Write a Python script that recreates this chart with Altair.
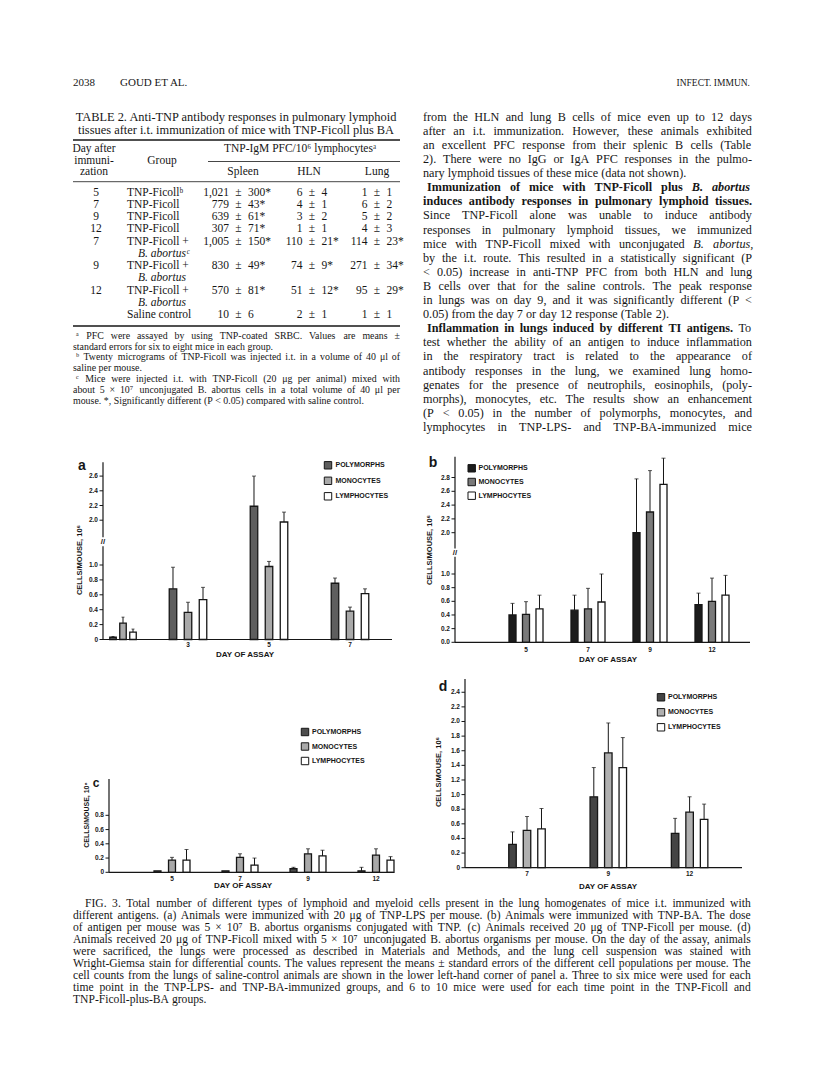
import altair as alt
import pandas as pd

M = 8  # page margin of the browser
SANS = "Liberation Sans"
SERIF = "Liberation Serif"
INK = "#161616"


def P(v):
    return v - M


# ---------------------------------------------------------------- figure data
cells = ["POLYMORPHS", "MONOCYTES", "LYMPHOCYTES"]

# panel a (TNP-LPS); saline control shown at the lower left
a_ctrl_day = ["C"]
a_ctrl = [0.03, 0.22, 0.10]
a_ctrl_se = [0.01, 0.08, 0.04]
a_days = ["3", "5", "7"]
a_poly = [0.68, 2.19, 0.755]
a_poly_se = [0.29, 0.41, 0.07]
a_mono = [0.365, 0.98, 0.38]
a_mono_se = [0.135, 0.10, 0.055]
a_lymph = [0.535, 1.96, 0.615]
a_lymph_se = [0.165, 0.15, 0.065]

# panel b (TNP-BA)
b_days = ["5", "7", "9", "12"]
b_poly = [0.40, 0.47, 2.00, 0.55]
b_poly_se = [0.17, 0.22, 0.78, 0.17]
b_mono = [0.41, 0.49, 2.30, 0.60]
b_mono_se = [0.185, 0.30, 0.60, 0.34]
b_lymph = [0.49, 0.59, 2.70, 0.69]
b_lymph_se = [0.20, 0.41, 0.38, 0.29]

# panel c (TNP-Ficoll)
c_days = ["5", "7", "9", "12"]
c_poly = [0.02, 0.02, 0.05, 0.02]
c_poly_se = [0.0, 0.0, 0.02, 0.05]
c_mono = [0.17, 0.21, 0.26, 0.24]
c_mono_se = [0.04, 0.05, 0.07, 0.09]
c_lymph = [0.17, 0.10, 0.23, 0.17]
c_lymph_se = [0.15, 0.10, 0.08, 0.05]

# panel d (TNP-Ficoll + B. abortus)
d_days = ["7", "9", "12"]
d_poly = [0.32, 0.97, 0.47]
d_poly_se = [0.17, 0.40, 0.205]
d_mono = [0.51, 1.57, 0.76]
d_mono_se = [0.19, 0.41, 0.21]
d_lymph = [0.53, 1.37, 0.66]
d_lymph_se = [0.28, 0.41, 0.21]

# axis ticks
a_ticks = [0, 0.2, 0.4, 0.6, 0.8, 1.0, 2.0, 2.2, 2.4, 2.6]
b_ticks = [0, 0.2, 0.4, 0.6, 0.8, 1.0, 2.0, 2.2, 2.4, 2.6, 2.8]
c_ticks = [0, 0.2, 0.4, 0.6, 0.8]
d_ticks = [0, 0.2, 0.4, 0.6, 0.8, 1.0, 1.2, 1.4, 1.6, 1.8, 2.0, 2.2, 2.4]

# ---------------------------------------------------------------- table data
tbl_day = ["5", "7", "9", "12", "7", "9", "12", ""]
tbl_group = ["TNP-Ficollᵇ", "TNP-Ficoll", "TNP-Ficoll", "TNP-Ficoll",
             "TNP-Ficoll +", "TNP-Ficoll +", "TNP-Ficoll +", "Saline control"]
tbl_group2 = ["", "", "", "", "B. abortusᶜ", "B. abortus", "B. abortus", ""]
spleen_mean = ["1,021", "779", "639", "307", "1,005", "830", "570", "10"]
spleen_se = ["300*", "43*", "61*", "71*", "150*", "49*", "81*", "6"]
hln_mean = ["6", "4", "3", "1", "110", "74", "51", "2"]
hln_se = ["4", "1", "2", "1", "21*", "9*", "12*", "1"]
lung_mean = ["1", "6", "5", "4", "114", "271", "95", "1"]
lung_se = ["1", "2", "2", "3", "23*", "34*", "29*", "1"]

# (text, justified)
footnotes = [
    ("ᵃ PFC were assayed by using TNP-coated SRBC. Values are means ±", True),
    ("standard errors for six to eight mice in each group.", False),
    ("ᵇ Twenty micrograms of TNP-Ficoll was injected i.t. in a volume of 40 μl of", True),
    ("saline per mouse.", False),
    ("ᶜ Mice were injected i.t. with TNP-Ficoll (20 μg per animal) mixed with", True),
    ("about 5 × 10⁷ unconjugated B. abortus cells in a total volume of 40 μl per", True),
    ("mouse. *, Significantly different (P < 0.05) compared with saline control.", False),
]

# segments: (text, weight, style); second item: justified
body = [
    ([("from the HLN and lung B cells of mice even up to 12 days", "normal", "normal")], True),
    ([("after an i.t. immunization. However, these animals exhibited", "normal", "normal")], True),
    ([("an excellent PFC response from their splenic B cells (Table", "normal", "normal")], True),
    ([("2). There were no IgG or IgA PFC responses in the pulmo-", "normal", "normal")], True),
    ([("nary lymphoid tissues of these mice (data not shown).", "normal", "normal")], False),
    ([("Immunization of mice with TNP-Ficoll plus", "bold", "normal"),
      ("B. abortus", "bold", "italic")], True),
    ([("induces antibody responses in pulmonary lymphoid tissues.", "bold", "normal")], True),
    ([("Since TNP-Ficoll alone was unable to induce antibody", "normal", "normal")], True),
    ([("responses in pulmonary lymphoid tissues, we immunized", "normal", "normal")], True),
    ([("mice with TNP-Ficoll mixed with unconjugated", "normal", "normal"),
      ("B. abortus,", "normal", "italic")], True),
    ([("by the i.t. route. This resulted in a statistically significant (P", "normal", "normal")], True),
    ([("< 0.05) increase in anti-TNP PFC from both HLN and lung", "normal", "normal")], True),
    ([("B cells over that for the saline controls. The peak response", "normal", "normal")], True),
    ([("in lungs was on day 9, and it was significantly different (P <", "normal", "normal")], True),
    ([("0.05) from the day 7 or day 12 response (Table 2).", "normal", "normal")], False),
    ([("Inflammation in lungs induced by different TI antigens.", "bold", "normal"),
      ("To", "normal", "normal")], True),
    ([("test whether the ability of an antigen to induce inflammation", "normal", "normal")], True),
    ([("in the respiratory tract is related to the appearance of", "normal", "normal")], True),
    ([("antibody responses in the lung, we examined lung homo-", "normal", "normal")], True),
    ([("genates for the presence of neutrophils, eosinophils, (poly-", "normal", "normal")], True),
    ([("morphs), monocytes, etc. The results show an enhancement", "normal", "normal")], True),
    ([("(P < 0.05) in the number of polymorphs, monocytes, and", "normal", "normal")], True),
    ([("lymphocytes in TNP-LPS- and TNP-BA-immunized mice", "normal", "normal")], True),
]

caption = [
    "FIG. 3. Total number of different types of lymphoid and myeloid cells present in the lung homogenates of mice i.t. immunized with",
    "different antigens. (a) Animals were immunized with 20 μg of TNP-LPS per mouse. (b) Animals were immunized with TNP-BA. The dose",
    "of antigen per mouse was 5 × 10⁷ B. abortus organisms conjugated with TNP. (c) Animals received 20 μg of TNP-Ficoll per mouse. (d)",
    "Animals received 20 μg of TNP-Ficoll mixed with 5 × 10⁷ unconjugated B. abortus organisms per mouse. On the day of the assay, animals",
    "were sacrificed, the lungs were processed as described in Materials and Methods, and the lung cell suspension was stained with",
    "Wright-Giemsa stain for differential counts. The values represent the means ± standard errors of the different cell populations per mouse. The",
    "cell counts from the lungs of saline-control animals are shown in the lower left-hand corner of panel a. Three to six mice were used for each",
    "time point in the TNP-LPS- and TNP-BA-immunized groups, and 6 to 10 mice were used for each time point in the TNP-Ficoll and",
    "TNP-Ficoll-plus-BA groups.",
]

# ---------------------------------------------------------------- text metrics (Times / Liberation Serif, per 1000 em)
_REG = {" ": 250, "!": 333, "'": 180, "(": 333, ")": 333, "*": 500, "+": 564, ",": 250,
        "-": 333, ".": 250, "/": 278, ":": 278, ";": 278, "<": 564, "=": 564, ">": 564,
        "±": 549, "×": 564, "μ": 500}
for ch, w in zip("ABCDEFGHIJKLMNOPQRSTUVWXYZ",
                 [722, 667, 667, 722, 611, 556, 722, 722, 333, 389, 722, 611, 889, 722, 722,
                  556, 722, 667, 556, 611, 722, 722, 944, 722, 722, 611]):
    _REG[ch] = w
for ch, w in zip("abcdefghijklmnopqrstuvwxyz",
                 [444, 500, 444, 500, 444, 333, 500, 500, 278, 278, 500, 278, 778, 500, 500,
                  500, 500, 333, 389, 278, 500, 500, 722, 500, 500, 444]):
    _REG[ch] = w
_BOLD = dict(_REG)
for ch, w in zip("ABCDEFGHIJKLMNOPQRSTUVWXYZ",
                 [722, 667, 722, 722, 667, 611, 778, 778, 389, 500, 778, 667, 944, 722, 778,
                  611, 778, 722, 556, 667, 722, 722, 1000, 722, 722, 667]):
    _BOLD[ch] = w
for ch, w in zip("abcdefghijklmnopqrstuvwxyz",
                 [500, 556, 444, 556, 444, 333, 500, 556, 278, 333, 556, 278, 833, 556, 500,
                  556, 556, 444, 389, 333, 556, 500, 722, 500, 500, 444]):
    _BOLD[ch] = w
_BOLD[":"] = 333


def text_w(s, size, weight="normal"):
    tab = _BOLD if weight == "bold" else _REG
    tot = 0
    for ch in s:
        if ch.isdigit():
            tot += 500
        elif ch in tab:
            tot += tab[ch]
        else:
            tot += 350
    return tot * size / 1000.0


# ---------------------------------------------------------------- helpers
def make_df(days, vals, ses):
    rows = []
    for i, d in enumerate(days):
        for k, c in enumerate(cells):
            rows.append({"day": d, "cell": c, "value": vals[k][i], "se": ses[k][i]})
    return pd.DataFrame(rows)


def yscale(dom, rng):
    return alt.Scale(domain=dom, range=[P(v) for v in rng], nice=False, zero=False)


def bar_layers(df, days, xr, pin, pout, spin, spout, ys, colors, cap=4.0):
    xs = alt.Scale(domain=days, range=[P(xr[0]), P(xr[1])],
                   paddingInner=pin, paddingOuter=pout)
    xo = alt.Scale(domain=cells, paddingInner=spin, paddingOuter=spout)
    X = alt.X("day:N", scale=xs, axis=None)
    XO = alt.XOffset("cell:N", scale=xo)
    fs = alt.Scale(domain=cells, range=colors)
    base = alt.Chart(df)
    bars = base.mark_bar(stroke=INK, strokeWidth=1.3).encode(
        x=X, xOffset=XO, y=alt.Y("value:Q", scale=ys, axis=None),
        fill=alt.Fill("cell:N", scale=fs, legend=None))
    eb = base.transform_filter("datum.se > 0").transform_calculate(
        upper="datum.value + datum.se")
    err = eb.mark_rule(color=INK, strokeWidth=1).encode(
        x=X, xOffset=XO, y=alt.Y("value:Q", scale=ys, axis=None), y2="upper:Q")
    caps = eb.mark_tick(color=INK, thickness=1, size=cap).encode(
        x=X, xOffset=XO, y=alt.Y("upper:Q", scale=ys, axis=None))
    return [bars, err, caps], xs


def fmt(v, zero):
    return zero if v == 0 else f"{v:.1f}"


def y_axis(ys, ticks, zero_label, ax_x, segs):
    tdf = pd.DataFrame({"v": ticks, "lab": [fmt(t, zero_label) for t in ticks]})
    Y = alt.Y("v:Q", scale=ys, axis=None)
    tk = alt.Chart(tdf).mark_rule(color=INK, strokeWidth=1).encode(
        y=Y, x=alt.value(P(ax_x - 3.5)), x2=alt.value(P(ax_x)))
    tl = alt.Chart(tdf).mark_text(align="right", baseline="middle", font=SANS,
                                  fontWeight="bold", fontSize=6.5, color=INK).encode(
        y=Y, x=alt.value(P(ax_x - 5)), text="lab:N")
    sdf = pd.DataFrame({"lo": [s[0] for s in segs], "hi": [s[1] for s in segs]})
    ln = alt.Chart(sdf).mark_rule(color=INK, strokeWidth=1.2).encode(
        y=alt.Y("lo:Q", scale=ys, axis=None), y2="hi:Q", x=alt.value(P(ax_x)))
    return [tk, tl, ln]


def x_axis(ys, xs, days, x0, x1, label_y):
    bl = alt.Chart(pd.DataFrame({"v": [0.0]})).mark_rule(color=INK, strokeWidth=1.2).encode(
        y=alt.Y("v:Q", scale=ys, axis=None), x=alt.value(P(x0)), x2=alt.value(P(x1)))
    lab = alt.Chart(pd.DataFrame({"day": days})).mark_text(
        baseline="middle", font=SANS, fontWeight="bold", fontSize=6.5, color=INK).encode(
        x=alt.X("day:N", scale=xs, axis=None), y=alt.value(P(label_y)), text="day:N")
    return [bl, lab]


def legend(colors, sx, lx, y0, y2, size=55):
    ldf = pd.DataFrame({"cell": cells})
    Y = alt.Y("cell:N", scale=alt.Scale(type="point", domain=cells,
                                         range=[P(y0), P(y2)], padding=0), axis=None)
    sw = alt.Chart(ldf).mark_square(size=size, stroke=INK, strokeWidth=1, opacity=1).encode(
        y=Y, x=alt.value(P(sx)),
        fill=alt.Fill("cell:N", scale=alt.Scale(domain=cells, range=colors), legend=None))
    tx = alt.Chart(ldf).mark_text(align="left", baseline="middle", font=SANS,
                                  fontWeight="bold", fontSize=7, color=INK).encode(
        y=Y, x=alt.value(P(lx)), text="cell:N")
    return [sw, tx]


layers = []

# ---------------------------------------------------------------- panel a
a_cols = ["#5e5e5e", "#a9a9a9", "#ffffff"]
ys_a = yscale([0, 1.0, 2.0, 2.8], [639.5, 565, 520.2, 461.4])
df_a = make_df(a_days, [a_poly, a_mono, a_lymph], [a_poly_se, a_mono_se, a_lymph_se])
df_ac = make_df(a_ctrl_day, [[a_ctrl[0]], [a_ctrl[1]], [a_ctrl[2]]],
                [[a_ctrl_se[0]], [a_ctrl_se[1]], [a_ctrl_se[2]]])
la, xs_a = bar_layers(df_a, a_days, (147.5, 390.5), 0.444, 0.222, 0.5, 0.25, ys_a, a_cols)
lc, _ = bar_layers(df_ac, a_ctrl_day, (108, 138), 0.0, 0.0, 0.35, 0.175, ys_a, a_cols, cap=3)
layers += la + lc
layers += y_axis(ys_a, a_ticks, "0", 103, [(0, 1.42), (1.62, 2.79)])
layers += x_axis(ys_a, xs_a, a_days, 103, 392, 645)
layers += legend(a_cols, 328, 335.5, 465.3, 496.3)

# ---------------------------------------------------------------- panel b
b_cols = ["#1c1c1c", "#7a7a7a", "#ffffff"]
ys_b = yscale([0, 1.0, 2.0, 3.1], [642.3, 574, 532.7, 456.8])
df_b = make_df(b_days, [b_poly, b_mono, b_lymph], [b_poly_se, b_mono_se, b_lymph_se])
lb, xs_b = bar_layers(df_b, b_days, (495, 743), 0.347, 0.1735, 0.48, 0.24, ys_b, b_cols)
layers += lb
layers += y_axis(ys_b, b_ticks, "0.0", 455, [(0, 1.42), (1.62, 3.1)])
layers += x_axis(ys_b, xs_b, b_days, 455, 750, 650.3)
layers += legend(b_cols, 471.7, 478.5, 468.3, 495.7)

# ---------------------------------------------------------------- panel c
c_cols = ["#4d4d4d", "#a9a9a9", "#ffffff"]
ys_c = yscale([0, 1.31], [872.3, 779])
df_c = make_df(c_days, [c_poly, c_mono, c_lymph], [c_poly_se, c_mono_se, c_lymph_se])
lcc, xs_c = bar_layers(df_c, c_days, (138, 410), 0.36, 0.18, 0.52, 0.26, ys_c, c_cols)
layers += lcc
layers += y_axis(ys_c, c_ticks, "0", 109, [(0, 1.31)])
layers += x_axis(ys_c, xs_c, c_days, 109, 393, 879)
layers += legend(c_cols, 305, 312, 732, 761)

# ---------------------------------------------------------------- panel d
d_cols = ["#444444", "#b0b0b0", "#ffffff"]
ys_d = yscale([0, 2.58], [867.7, 679.1])
df_d = make_df(d_days, [d_poly, d_mono, d_lymph], [d_poly_se, d_mono_se, d_lymph_se])
ld, xs_d = bar_layers(df_d, d_days, (486.35, 730.25), 0.465, 0.2325, 0.483, 0.2415, ys_d, d_cols)
layers += ld
layers += y_axis(ys_d, d_ticks, "0", 465, [(0, 2.58)])
layers += x_axis(ys_d, xs_d, d_days, 465, 742, 874)
layers += legend(d_cols, 661, 668, 697.3, 727.3)

# ---------------------------------------------------------------- page text
T = []


def put(x, y, s, size, font=SERIF, weight="normal", style="normal", align="left", angle=0):
    if s:
        T.append({"x": P(x), "y": P(y), "s": s, "size": size, "font": font,
                  "weight": weight, "style": style, "align": align, "angle": angle})


def put_line(segments, x0, x1, y, size, justify):
    words = []
    for text, weight, style in segments:
        for wd in text.split(" "):
            if wd:
                words.append((wd, weight, style))
    widths = [text_w(w, size, wt) for w, wt, _ in words]
    natural = 0.25 * size
    if justify and len(words) > 1:
        gap = (x1 - x0 - sum(widths)) / (len(words) - 1)
        gap = max(gap, 1.0)
    else:
        gap = natural
    x = x0
    for (wd, wt, st), w in zip(words, widths):
        put(x, y, wd, size, weight=wt, style=st)
        x += w + gap


# running head
put(73, 83, "2038", 11)
put(120, 83, "GOUD ET AL.", 11)
put(750, 83, "INFECT. IMMUN.", 9.5, align="right")

# table
put(236, 116.7, "TABLE 2. Anti-TNP antibody responses in pulmonary lymphoid", 12.4, align="center")
put(236, 130, "tissues after i.t. immunization of mice with TNP-Ficoll plus BA", 12.4, align="center")
put(94, 149.3, "Day after", 11.5, align="center")
put(94, 160.5, "immuni-", 11.5, align="center")
put(94, 171.7, "zation", 11.5, align="center")
put(162, 160.5, "Group", 11.5, align="center")
put(300, 149.3, "TNP-IgM PFC/10⁶ lymphocytesᵃ", 11.5, align="center")
put(243, 171.7, "Spleen", 11.5, align="center")
put(309, 171.7, "HLN", 11.5, align="center")
put(377, 171.7, "Lung", 11.5, align="center")

row_line = [0, 1, 2, 3, 4, 6, 8, 10]
pm_cols = [(238.5, spleen_mean, spleen_se), (312, hln_mean, hln_se), (377, lung_mean, lung_se)]
for i, ln in enumerate(row_line):
    y = 192.7 + 12.23 * ln
    put(96, y, tbl_day[i], 11.5, align="center")
    put(127, y, tbl_group[i], 11.5)
    if tbl_group2[i]:
        put(138, y + 12.23, tbl_group2[i], 11.5, style="italic")
    for px, mean, se in pm_cols:
        put(px - 9.5, y, mean[i], 11.5, align="right")
        put(px, y, "±", 11.5, align="center")
        put(px + 9.5, y, se[i], 11.5)

for k, (s, just) in enumerate(footnotes):
    x = 76 if s[0] in "ᵃᵇᶜ" else 73
    put_line([(s, "normal", "normal")], x, 400, 335.7 + 10.8 * k, 9.9, just)

rules = pd.DataFrame({
    "x": [P(73), P(208), P(73), P(73)],
    "x2": [P(400), P(400), P(400), P(400)],
    "y": [P(140), P(161.5), P(181.7), P(326)],
    "w": [1.6, 0.8, 0.8, 1.6],
})

# right column body text
for k, (segs, just) in enumerate(body):
    y = 116.7 + 14.1 * k
    x0 = 427 if k in (5, 15) else 423
    put_line(segs, x0, 752, y, 12.2, just)

# figure caption
for k, s in enumerate(caption):
    put_line([(s, "normal", "normal")], 85 if k == 0 else 73, 750.7, 904 + 12 * k, 11.6,
             k < len(caption) - 1)

# panel decorations
for x, y, s, fsz in [(82, 466, "a", 14), (433, 463, "b", 14), (96, 783, "c", 12), (443, 687, "d", 14)]:
    put(x, y, s, fsz, font=SANS, weight="bold", align="center")
for x, y, fsz in [(80, 560, 7.5), (430, 550, 7.5), (87, 815, 7), (439, 772, 7.5)]:
    put(x, y, "CELLS/MOUSE, 10⁶", fsz, font=SANS, weight="bold", align="center", angle=270)
for x, y in [(245, 654.5), (608, 659.5), (243, 886), (608, 887)]:
    put(x, y, "DAY OF ASSAY", 8, font=SANS, weight="bold", align="center")
for x, y in [(103, 541.7), (455, 552.5)]:
    put(x, y, "//", 8, font=SANS, weight="bold", align="center")

tdf = pd.DataFrame(T)
for key, g in tdf.groupby(["font", "weight", "style", "align", "angle"]):
    font, weight, style, align, angle = key
    layers.append(
        alt.Chart(g.reset_index(drop=True)[["x", "y", "s", "size"]]).mark_text(
            font=font, fontWeight=weight, fontStyle=style, align=align,
            baseline="middle", angle=float(angle), color=INK).encode(
            x=alt.X("x:Q", scale=None, axis=None),
            y=alt.Y("y:Q", scale=None, axis=None),
            text="s:N",
            size=alt.Size("size:Q", scale=None, legend=None)))

layers.append(
    alt.Chart(rules).mark_rule(color=INK).encode(
        x=alt.X("x:Q", scale=None, axis=None), x2="x2:Q",
        y=alt.Y("y:Q", scale=None, axis=None),
        strokeWidth=alt.StrokeWidth("w:Q", scale=None, legend=None)))

chart = (
    alt.layer(*layers)
    .resolve_scale(x="independent", y="independent", xOffset="independent", fill="independent")
    .properties(width=800, height=1066, padding=0,
                autosize=alt.AutoSizeParams(type="none"), background="white")
    .configure_view(strokeWidth=0)
)

chart.save("out.html", embed_options={"renderer": "svg", "actions": False})
